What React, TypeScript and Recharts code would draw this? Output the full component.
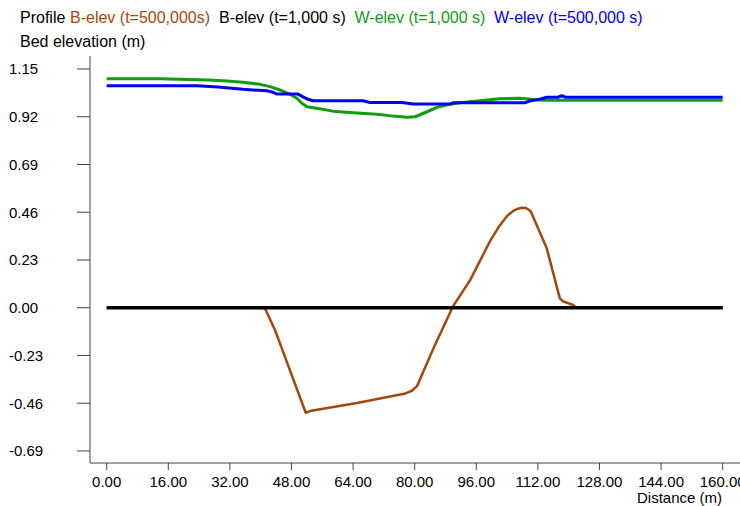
import React from 'react';
import { LineChart, Line, XAxis, YAxis } from 'recharts';

const FONT = '"Liberation Sans", Arial, Helvetica, sans-serif';

const BROWN = '#a4470c';
const BLACK = '#000000';
const GREEN = '#119c11';
const BLUE = '#0000f2';
const AXIS = '#444444';

// X (distance, m) tick values and Y (bed elevation, m) tick values
const X_TICKS = [0, 16, 32, 48, 64, 80, 96, 112, 128, 144, 160];
const Y_TICKS = [-0.69, -0.46, -0.23, 0, 0.23, 0.46, 0.69, 0.92, 1.15];

// B-elev (t=500,000s)
const bElev500kDist = [0, 38.5, 41.1, 43.7, 51.7, 52.8, 65.0, 77.6, 79.3, 80.6, 85.0, 89.9, 94.4, 99.5, 102.0, 104.0, 105.5, 106.8, 107.9, 108.9, 109.7, 110.3, 114.3, 117.7, 118.6, 121.2, 121.9, 160];
const bElev500kVal = [0, 0, -0.003, -0.107, -0.506, -0.498, -0.459, -0.413, -0.400, -0.378, -0.190, 0.005, 0.133, 0.318, 0.394, 0.442, 0.465, 0.477, 0.482, 0.480, 0.472, 0.458, 0.286, 0.045, 0.030, 0.013, 0, 0];

// B-elev (t=1,000 s)
const bElev1kDist = [0, 160];
const bElev1kVal = [0, 0];

// W-elev (t=1,000 s)
const wElev1kDist = [0, 13.8, 26.3, 31.2, 35.4, 39.8, 42.4, 45.0, 47.6, 49.4, 50.7, 52.0, 54.9, 58.8, 64.0, 70.2, 74.4, 78.0, 80.1, 83.2, 85.8, 88.4, 91.8, 96.9, 102.1, 107.3, 113.3, 160];
const wElev1kVal = [1.103, 1.103, 1.097, 1.092, 1.086, 1.076, 1.065, 1.049, 1.028, 1.009, 0.985, 0.968, 0.960, 0.947, 0.939, 0.932, 0.923, 0.917, 0.920, 0.944, 0.965, 0.978, 0.987, 0.997, 1.007, 1.009, 1.000, 1.000];

// W-elev (t=500,000 s)
const wElev500kDist = [0, 23.4, 28.9, 32.5, 35.4, 41.6, 43.2, 44.2, 49.7, 51.0, 52.3, 53.6, 66.6, 68.4, 76.7, 79.6, 89.2, 90.0, 101.4, 108.6, 109.9, 112.5, 114.3, 117.2, 118.2, 119.2, 160];
const wElev500kVal = [1.069, 1.069, 1.063, 1.057, 1.052, 1.045, 1.038, 1.029, 1.029, 1.016, 1.004, 0.997, 0.997, 0.989, 0.989, 0.981, 0.981, 0.987, 0.987, 0.987, 0.996, 1.004, 1.014, 1.014, 1.021, 1.014, 1.014];

const toPoints = (xs: number[], ys: number[]) => xs.map((x, i) => ({ x, y: ys[i] }));

const brownData = toPoints(bElev500kDist, bElev500kVal);
const blackData = toPoints(bElev1kDist, bElev1kVal);
const greenData = toPoints(wElev1kDist, wElev1kVal);
const blueData = toPoints(wElev500kDist, wElev500kVal);

const XTick = (props: any) => {
  const { x, payload } = props;
  return (
    <text x={x} y={487} textAnchor="middle" fontSize={15} fontFamily={FONT} fill="#000">
      {Number(payload.value).toFixed(2)}
    </text>
  );
};

const YTick = (props: any) => {
  const { y, payload } = props;
  return (
    <text x={9} y={y} dy={5.3} textAnchor="start" fontSize={15} fontFamily={FONT} fill="#000">
      {Number(payload.value).toFixed(2)}
    </text>
  );
};

const NoTick = () => <g />;

const legendItems = [
  { text: 'Profile', color: BLACK, left: 20 },
  { text: 'B-elev (t=500,000s)', color: BROWN, left: 70 },
  { text: 'B-elev (t=1,000 s)', color: BLACK, left: 219 },
  { text: 'W-elev (t=1,000 s)', color: GREEN, left: 354.5 },
  { text: 'W-elev (t=500,000 s)', color: BLUE, left: 494 },
];

export default function App() {
  return (
    <div
      style={{
        position: 'absolute',
        left: 0,
        top: 0,
        width: 740,
        height: 506,
        overflow: 'hidden',
        background: '#ffffff',
        fontFamily: FONT,
      }}
    >
      {legendItems.map((it) => (
        <div
          key={it.text}
          style={{
            position: 'absolute',
            left: it.left,
            top: 9,
            fontSize: 16,
            lineHeight: '18px',
            color: it.color,
            whiteSpace: 'nowrap',
          }}
        >
          {it.text}
        </div>
      ))}
      <div
        style={{
          position: 'absolute',
          left: 20,
          top: 33,
          fontSize: 16,
          lineHeight: '18px',
          color: '#000',
          whiteSpace: 'nowrap',
        }}
      >
        Bed elevation (m)
      </div>
      <div
        style={{
          position: 'absolute',
          left: 0,
          width: 722,
          top: 489,
          fontSize: 15,
          lineHeight: '18px',
          color: '#000',
          textAlign: 'right',
          whiteSpace: 'nowrap',
        }}
      >
        Distance (m)
      </div>
      <div style={{ position: 'absolute', left: 0, top: 0 }}>
        <LineChart width={740} height={506} margin={{ top: 56, right: 0, bottom: 0, left: 0 }}>
          <XAxis
            xAxisId="b"
            type="number"
            dataKey="x"
            domain={[-4.34, 164.5]}
            ticks={X_TICKS}
            interval={0}
            allowDataOverflow
            height={43}
            tickSize={7}
            axisLine={{ stroke: AXIS, strokeWidth: 1 }}
            tickLine={{ stroke: AXIS, strokeWidth: 1 }}
            tick={<XTick />}
          />
          <XAxis
            xAxisId="t"
            orientation="top"
            type="number"
            dataKey="x"
            domain={[-4.34, 164.5]}
            ticks={X_TICKS}
            interval={0}
            allowDataOverflow
            height={0}
            tickSize={6}
            axisLine={{ stroke: AXIS, strokeWidth: 1 }}
            tickLine={{ stroke: AXIS, strokeWidth: 1 }}
            tick={<NoTick />}
          />
          <YAxis
            type="number"
            domain={[-0.748, 1.2126]}
            ticks={Y_TICKS}
            interval={0}
            allowDataOverflow
            width={90}
            tickSize={13}
            axisLine={{ stroke: AXIS, strokeWidth: 1 }}
            tickLine={{ stroke: AXIS, strokeWidth: 1 }}
            tick={<YTick />}
          />
          <Line xAxisId="b" data={brownData} dataKey="y" type="linear" stroke={BROWN} strokeWidth={2.5} strokeLinejoin="round" dot={false} isAnimationActive={false} />
          <Line xAxisId="b" data={blackData} dataKey="y" type="linear" stroke={BLACK} strokeWidth={3.5} dot={false} isAnimationActive={false} />
          <Line xAxisId="b" data={greenData} dataKey="y" type="linear" stroke={GREEN} strokeWidth={3} strokeLinejoin="round" dot={false} isAnimationActive={false} />
          <Line xAxisId="b" data={blueData} dataKey="y" type="linear" stroke={BLUE} strokeWidth={3} strokeLinejoin="round" dot={false} isAnimationActive={false} />
        </LineChart>
      </div>
    </div>
  );
}
